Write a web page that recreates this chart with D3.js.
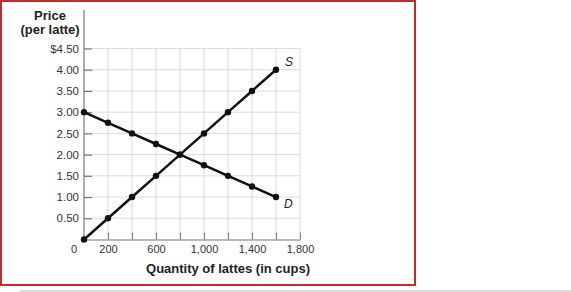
<!DOCTYPE html>
<html>
<head>
<meta charset="utf-8">
<script src="https://cdn.jsdelivr.net/npm/d3@7"></script>
<style>
  html, body { margin: 0; padding: 0; background: #fff; }
  svg { display: block; }
</style>
</head>
<body>
<svg id="chart" width="571" height="292"></svg>
<script>
// ---- data ----
const quantities = [0, 200, 400, 600, 800, 1000, 1200, 1400, 1600];
const supplyPrices = [0, 0.5, 1.0, 1.5, 2.0, 2.5, 3.0, 3.5, 4.0];
const demandPrices = [3.0, 2.75, 2.5, 2.25, 2.0, 1.75, 1.5, 1.25, 1.0];
const xTicks = [200, 400, 600, 800, 1000, 1200, 1400, 1600, 1800];
const xTickLabels = ["200", "", "600", "", "1,000", "", "1,400", "", "1,800"];
const yTicks = [0.5, 1.0, 1.5, 2.0, 2.5, 3.0, 3.5, 4.0, 4.5];
const yTickLabels = ["0.50", "1.00", "1.50", "2.00", "2.50", "3.00", "3.50", "4.00", "$4.50"];
const seriesNames = ["S", "D"];

const svg = d3.select("#chart");
const font = "'Liberation Sans', Arial, Helvetica, sans-serif";

// frame
svg.append("rect").attr("x", 1).attr("y", 1).attr("width", 414).attr("height", 284)
  .attr("fill", "none").attr("stroke", "#c42b2b").attr("stroke-width", 2);
svg.append("line").attr("x1", 20).attr("x2", 571).attr("y1", 291).attr("y2", 291)
  .attr("stroke", "#cfcfcf").attr("stroke-width", 1.5);

const x = d3.scaleLinear().domain([0, 1800]).range([84, 300]);
const y = d3.scaleLinear().domain([0, 4.5]).range([239.5, 48.5]);

// grid
const g = svg.append("g");
g.selectAll(".vg").data(xTicks).enter().append("line")
  .attr("x1", d => x(d)).attr("x2", d => x(d))
  .attr("y1", y(0)).attr("y2", y(4.5))
  .attr("stroke", "#dcdcdc").attr("stroke-width", 1);
g.selectAll(".hg").data(yTicks).enter().append("line")
  .attr("x1", x(0)).attr("x2", x(1800))
  .attr("y1", d => y(d)).attr("y2", d => y(d))
  .attr("stroke", "#dcdcdc").attr("stroke-width", 1);

// axes
const xAxis = d3.axisBottom(x).tickValues(xTicks).tickSizeInner(-7).tickSizeOuter(0)
  .tickFormat((d, i) => xTickLabels[i]).tickPadding(6);
const gx = svg.append("g").attr("transform", `translate(0,${y(0)})`).call(xAxis);
gx.select(".domain").attr("stroke", "#777").attr("stroke-width", 1.2);
gx.selectAll(".tick line").attr("stroke", "#888").attr("stroke-width", 1.2);
gx.selectAll("text").attr("font-family", font).attr("font-size", 11).attr("fill", "#333");

const yAxis = d3.axisLeft(y).tickValues(yTicks).tickSizeInner(-8).tickSizeOuter(0)
  .tickFormat((d, i) => yTickLabels[i]).tickPadding(5);
const gy = svg.append("g").attr("transform", `translate(${x(0)},0)`).call(yAxis);
gy.select(".domain").remove();
gy.selectAll(".tick line").attr("stroke", "#777").attr("stroke-width", 1.2);
gy.selectAll("text").attr("font-family", font).attr("font-size", 11.5).attr("fill", "#333");
svg.append("line").attr("x1", x(0)).attr("x2", x(0)).attr("y1", 10).attr("y2", y(0))
  .attr("stroke", "#777").attr("stroke-width", 1.2);

// origin label
svg.append("text").attr("x", 74).attr("y", 253).attr("text-anchor", "middle")
  .attr("font-family", font).attr("font-size", 11).attr("fill", "#333").text("0");

// titles
svg.append("text").attr("x", 50).attr("y", 20).attr("text-anchor", "middle")
  .attr("font-family", font).attr("font-size", 13).attr("font-weight", "bold").attr("fill", "#222").text("Price");
svg.append("text").attr("x", 50).attr("y", 34).attr("text-anchor", "middle")
  .attr("font-family", font).attr("font-size", 13).attr("font-weight", "bold").attr("fill", "#222").text("(per latte)");
svg.append("text").attr("x", 228).attr("y", 273).attr("text-anchor", "middle")
  .attr("font-family", font).attr("font-size", 13).attr("font-weight", "bold").attr("fill", "#222")
  .text("Quantity of lattes (in cups)");

// series
const series = [supplyPrices, demandPrices];
const line = d3.line().x((d, i) => x(quantities[i])).y(d => y(d));
series.forEach((vals, k) => {
  svg.append("path").datum(vals).attr("d", line)
    .attr("fill", "none").attr("stroke", "#111").attr("stroke-width", 2.5);
  svg.selectAll(null).data(vals).enter().append("circle")
    .attr("cx", (d, i) => x(quantities[i])).attr("cy", d => y(d)).attr("r", 3.2)
    .attr("fill", "#111");
});

// series labels
const last = quantities.length - 1;
svg.append("text").attr("x", x(quantities[last]) + 9).attr("y", y(supplyPrices[last]) - 4)
  .attr("font-family", font).attr("font-size", 12).attr("font-style", "italic").attr("fill", "#222")
  .text(seriesNames[0]);
svg.append("text").attr("x", x(quantities[last]) + 8).attr("y", y(demandPrices[last]) + 11)
  .attr("font-family", font).attr("font-size", 12).attr("font-style", "italic").attr("fill", "#222")
  .text(seriesNames[1]);
</script>
</body>
</html>
